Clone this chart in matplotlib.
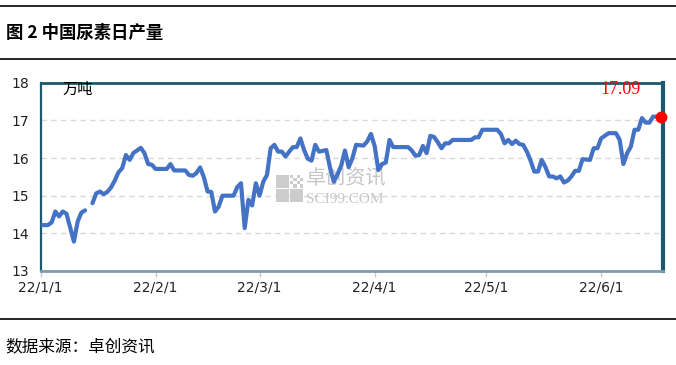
import numpy as np
import pandas as pd
import matplotlib
matplotlib.use('Agg')
import matplotlib.pyplot as plt
import matplotlib.dates as mdates
from matplotlib.patches import Rectangle
from matplotlib.lines import Line2D

plt.rcParams['font.family'] = ['Noto Sans CJK SC', 'DejaVu Sans']

# 中国尿素日产量 (万吨), 2022
dates = ['01-01', '01-03', '01-04', '01-05', '01-06', '01-07', '01-08', '01-10', '01-11', '01-12',
         '01-13', '01-14', '01-15', '01-16', '01-17', '01-18', '01-19', '01-20', '01-21', '01-22',
         '01-23', '01-24', '01-25', '01-26', '01-27', '01-28', '01-29', '01-30', '01-31', '02-01',
         '02-04', '02-05', '02-06', '02-09', '02-10', '02-11', '02-12', '02-13', '02-14', '02-15',
         '02-16', '02-17', '02-18', '02-19', '02-22', '02-23', '02-24', '02-25', '02-26', '02-27',
         '02-28', '03-01', '03-02', '03-03', '03-04', '03-05', '03-06', '03-07', '03-08', '03-09',
         '03-10', '03-11', '03-12', '03-13', '03-14', '03-15', '03-16', '03-17', '03-19', '03-20',
         '03-21', '03-22', '03-23', '03-24', '03-25', '03-26', '03-27', '03-29', '03-30', '03-31',
         '04-01', '04-02', '04-03', '04-04', '04-05', '04-06', '04-10', '04-11', '04-12', '04-13',
         '04-14', '04-15', '04-16', '04-17', '04-18', '04-19', '04-20', '04-21', '04-22', '04-27',
         '04-28', '04-29', '04-30', '05-04', '05-05', '05-06', '05-07', '05-08', '05-09', '05-10',
         '05-11', '05-12', '05-13', '05-14', '05-15', '05-16', '05-17', '05-18', '05-19', '05-20',
         '05-21', '05-22', '05-23', '05-24', '05-25', '05-26', '05-27', '05-29', '05-30', '05-31',
         '06-01', '06-02', '06-03', '06-05', '06-06', '06-07', '06-08', '06-09', '06-10', '06-11',
         '06-12', '06-13', '06-14', '06-15', '06-16', '06-17']
values = [14.22, 14.22, 14.29, 14.58, 14.45, 14.58, 14.52, 13.78, 14.31, 14.55,
          14.61, np.nan, 14.80, 15.06, 15.11, 15.04, 15.10, 15.22, 15.40, 15.62,
          15.73, 16.08, 15.95, 16.13, 16.20, 16.27, 16.13, 15.84, 15.82, 15.71,
          15.71, 15.84, 15.67, 15.67, 15.55, 15.53, 15.60, 15.75, 15.49, 15.11,
          15.10, 14.58, 14.71, 15.00, 15.00, 15.23, 15.33, 14.14, 14.89, 14.74,
          15.33, 15.00, 15.37, 15.55, 16.26, 16.35, 16.17, 16.17, 16.04, 16.17,
          16.29, 16.29, 16.52, 16.21, 15.98, 15.93, 16.35, 16.17, 16.21, 15.73,
          15.37, 15.57, 15.80, 16.20, 15.76, 15.99, 16.35, 16.33, 16.44, 16.64,
          16.32, 15.68, 15.84, 15.88, 16.48, 16.29, 16.29, 16.20, 16.06, 16.08,
          16.32, 16.13, 16.59, 16.56, 16.42, 16.26, 16.39, 16.39, 16.48, 16.48,
          16.55, 16.55, 16.75, 16.75, 16.64, 16.39, 16.48, 16.37, 16.46, 16.37,
          16.35, 16.17, 15.93, 15.64, 15.64, 15.95, 15.76, 15.51, 15.51, 15.46,
          15.51, 15.35, 15.40, 15.51, 15.66, 15.66, 15.97, 15.95, 16.26, 16.26,
          16.52, 16.59, 16.66, 16.66, 16.48, 15.84, 16.13, 16.30, 16.75, 16.75,
          17.06, 16.94, 16.94, 17.10, 17.10, 17.09]
y_ticks = [13, 14, 15, 16, 17, 18]
title = '图 2 中国尿素日产量'
unit = '万吨'
source = '数据来源：卓创资讯'

x = pd.to_datetime(['2022-' + d for d in dates])

fig = plt.figure(figsize=(6.76, 3.65), dpi=100)
ax = fig.add_axes([40.5 / 676, 1 - 271 / 365, 622.5 / 676, 188.3 / 365])

ax.plot(x, values, color='#4472C4', lw=3.0, solid_capstyle='round', solid_joinstyle='round', zorder=3)
ax.plot(x[-1:], values[-1:], 'o', color='#FF0000', ms=7.5, clip_on=False, zorder=5)
ax.annotate(f'{values[-1]:.2f}', (x[-1], values[-1]), xytext=(-29, 20), textcoords='offset points',
            ha='center', va='center', color='#FF0000', fontsize=13, family='Liberation Serif')

ax.set_ylim(13, 18)
ax.set_yticks(y_ticks)
ax.set_xlim(x[0], x[-1] + pd.Timedelta(hours=16))
ax.xaxis.set_major_locator(mdates.MonthLocator())
ax.xaxis.set_major_formatter(plt.FuncFormatter(
    lambda v, p: '{:%y}/{}/{}'.format(mdates.num2date(v), mdates.num2date(v).month, mdates.num2date(v).day)))

ax.grid(axis='y', color='#D9D9D9', ls=(0, (4, 3)), lw=1)
ax.set_axisbelow(True)
for lab in ax.get_xticklabels() + ax.get_yticklabels():
    lab.set_family('DejaVu Sans')
ax.tick_params(axis='y', length=0, pad=8, labelsize=10, labelcolor='#222222')
ax.tick_params(axis='x', length=4, width=1, color='#C8C8C8', pad=3, labelsize=10, labelcolor='#222222')

for s in ['left', 'top']:
    ax.spines[s].set_color('#1B5A6E')
ax.spines['left'].set_linewidth(1.6)
ax.spines['top'].set_linewidth(2)
ax.spines['right'].set_color('#1B5A6E')
ax.spines['right'].set_linewidth(3)
ax.spines['bottom'].set_color('#7D9DAA')
ax.spines['bottom'].set_linewidth(2)

ax.text(0.036, 0.962, unit, transform=ax.transAxes, fontsize=11, ha='left', va='center')

# watermark
ax.text(0.427, 0.49, '卓创资讯', transform=ax.transAxes, fontsize=14.5, color='#C6C6C6',
        ha='left', va='center', zorder=1)
ax.text(0.427, 0.38, 'SCI99.COM', transform=ax.transAxes, fontsize=11, color='#C6C6C6',
        ha='left', va='center', family='Liberation Serif', zorder=1)
for (bx, by) in [(275.5, 174.5), (275.5, 189), (290, 189)]:
    fig.add_artist(Rectangle((bx / 676, 1 - (by + 13) / 365), 13 / 676, 13 / 365,
                             color='#CCCCCC', lw=0, zorder=1))
for i in range(4):
    for j in range(4):
        if (i + j) % 2 == 0:
            fig.add_artist(Rectangle(((290 + i * 3.3) / 676, 1 - (174.5 + (j + 1) * 3.3) / 365),
                                     3.3 / 676, 3.3 / 365, color='#CCCCCC', lw=0, zorder=1))

# frame lines and texts
for yy in [6, 59, 319]:
    fig.add_artist(Line2D([0, 1], [1 - yy / 365, 1 - yy / 365], color='black', lw=1.2))
fig.text(6 / 676, 1 - 33 / 365, title, fontsize=12.5, fontweight='bold', ha='left', va='center')
fig.text(5 / 676, 1 - 347 / 365, source, fontsize=12, ha='left', va='center')

fig.savefig('out.png', dpi=100)
